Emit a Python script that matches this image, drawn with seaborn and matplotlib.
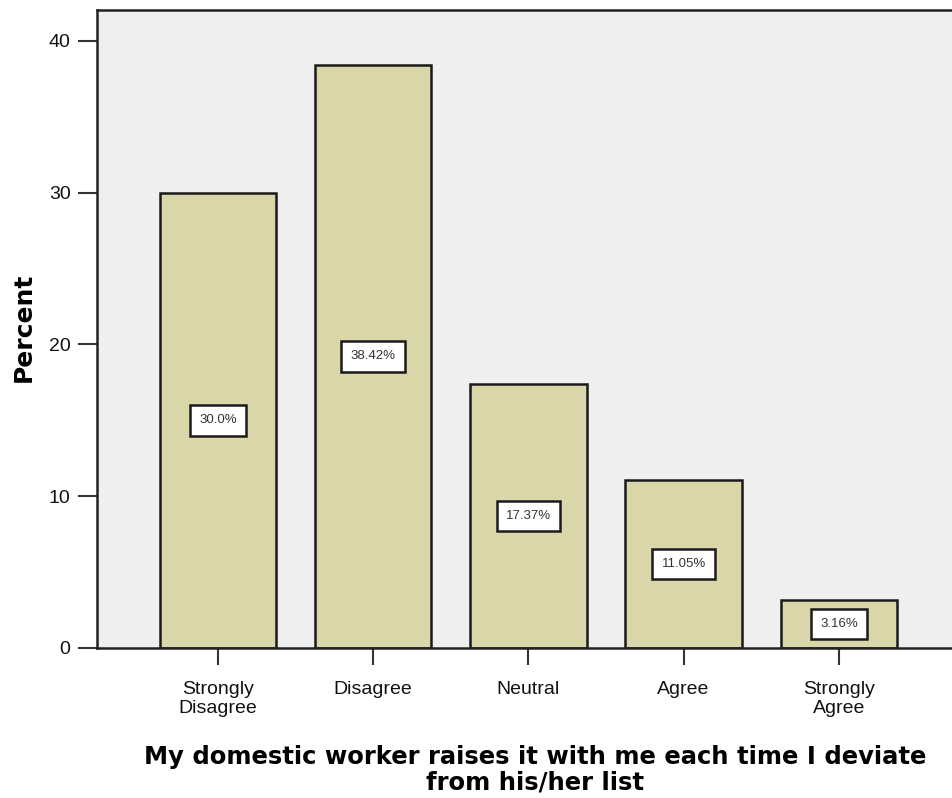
import matplotlib
matplotlib.use("Agg")
import matplotlib.pyplot as plt
import seaborn as sns
import pandas as pd

categories = ["Strongly\nDisagree", "Disagree", "Neutral", "Agree", "Strongly\nAgree"]
percents = [30.0, 38.42, 17.37, 11.05, 3.16]
value_labels = ["30.0%", "38.42%", "17.37%", "11.05%", "3.16%"]
y_ticks = [0, 10, 20, 30, 40]

sns.set_theme(style="white")
plt.rcParams["font.family"] = ["Liberation Sans", "DejaVu Sans"]

df = pd.DataFrame({"category": categories, "percent": percents})

fig = plt.figure(figsize=(9.52, 7.98), dpi=100)
ax = fig.add_axes([97 / 952, 150 / 798, 1 - 97 / 952 + 0.01, 638 / 798])
ax.set_facecolor("#EFEFEF")

sns.barplot(data=df, x="category", y="percent", ax=ax, color="#D9D6AA",
            saturation=1, width=0.75, edgecolor="#1a1a1a", linewidth=1.8)

for i, (v, lab) in enumerate(zip(percents, value_labels)):
    ax.text(i, v / 2, lab, ha="center", va="center", fontsize=9.5, color="#333333",
            bbox=dict(boxstyle="square,pad=0.7", facecolor="white",
                      edgecolor="#1a1a1a", linewidth=1.8))

ax.set_xlim(-0.778, 4.79)
ax.set_ylim(0, 42.04)
ax.set_yticks(y_ticks)
ax.set_yticklabels([str(t) for t in y_ticks], fontsize=14, color="#111111")
ax.tick_params(axis="x", labelsize=14, labelcolor="#111111", length=12, width=1.5,
               color="#333333", direction="out", pad=12, bottom=True)
ax.tick_params(axis="y", length=14, width=1.5, color="#333333",
               direction="out", pad=5, left=True)
for lbl in ax.get_xticklabels():
    lbl.set_linespacing(1.15)

for side in ["left", "bottom", "top"]:
    ax.spines[side].set_visible(True)
    ax.spines[side].set_color("#222222")
    ax.spines[side].set_linewidth(1.8)
ax.spines["right"].set_visible(False)

ax.set_xlabel("My domestic worker raises it with me each time I deviate\nfrom his/her list",
              fontsize=17.5, fontweight="bold", family="DejaVu Sans", color="black",
              linespacing=1.05)
ax.set_ylabel("Percent", fontsize=18, fontweight="bold", family="DejaVu Sans",
              color="black")
ax.xaxis.set_label_coords((530 - 97) / 855, -0.191)
ax.xaxis.label.set_va("center")
ax.yaxis.set_label_coords(-(97 - 25) / 855, (648 - 327) / 638)
ax.yaxis.label.set_va("center")

fig.savefig("out.png", dpi=100)
